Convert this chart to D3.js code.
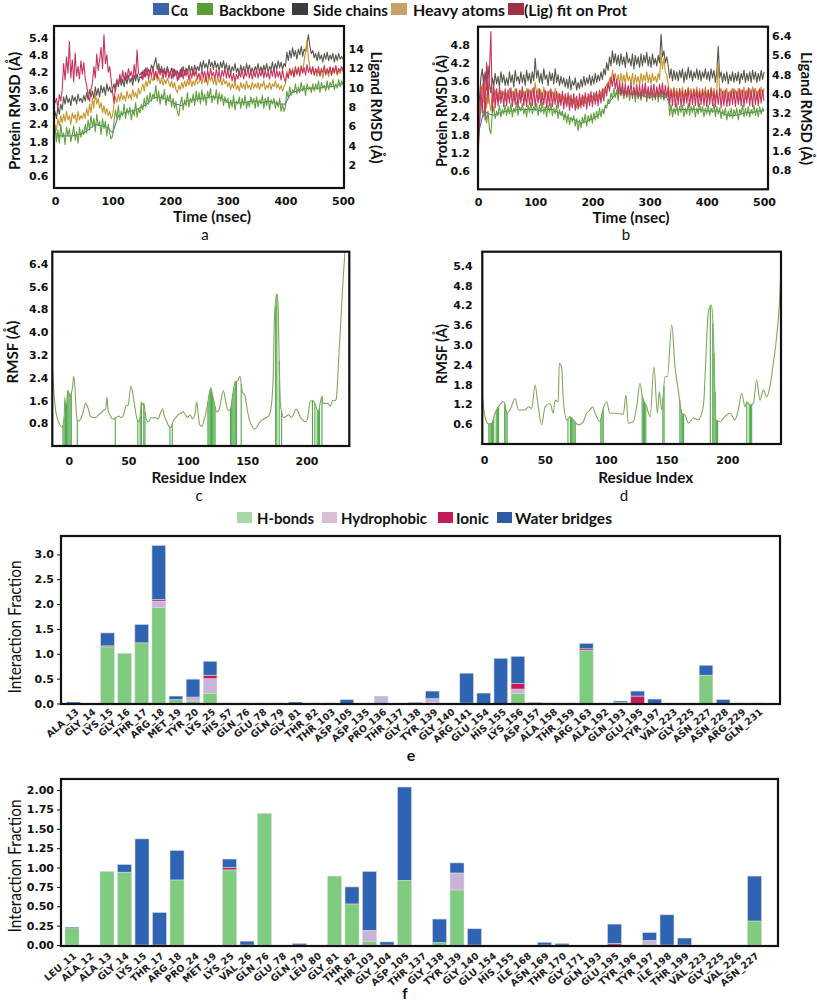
<!DOCTYPE html>
<html><head><meta charset="utf-8">
<script src="https://cdn.jsdelivr.net/npm/d3@7"></script>
<style>body{margin:0;background:#fff}svg{display:block}</style>
</head><body>
<svg id="fig" width="817" height="1003"></svg>
<script>
// ---------------- DATA ----------------
const rmsdLegend = ["Cα","Backbone","Side chains","Heavy atoms","(Lig) fit on Prot"];
const aLeftTicks = [0.6,1.2,1.8,2.4,3.0,3.6,4.2,4.8,5.4];
const aRightTicks = [2,4,6,8,10,12,14];
const bLeftTicks = [0.6,1.2,1.8,2.4,3.0,3.6,4.2,4.8];
const bRightTicks = [0.8,1.6,2.4,3.2,4.0,4.8,5.6,6.4];
const timeTicks = [0,100,200,300,400,500];

// panel a (every 2.5 ns, 0..500)
const aBackbone = [
 2.35,1.8,2.2,1.75,2.4,1.95,2.1,1.7,2.3,2.0,2.25,1.8,2.05,2.35,1.85,2.15,1.75,2.3,1.95,2.2,
 2.05,2.4,2.1,2.55,2.2,2.7,2.3,2.6,2.15,2.75,2.35,2.5,2.05,2.6,2.25,2.5,2.0,2.4,2.1,1.9,
 2.0,2.5,2.9,2.6,3.05,2.55,2.85,2.7,3.1,2.6,2.95,2.75,3.0,2.55,2.9,2.7,3.15,2.65,2.95,2.8,
 3.1,2.9,3.3,3.0,3.4,3.1,3.5,3.2,3.45,3.3,3.75,3.2,3.55,3.1,3.45,3.25,3.6,3.05,3.4,3.2,
 3.45,3.0,3.3,2.95,3.2,2.8,2.7,3.1,3.35,2.9,3.25,3.05,3.5,3.0,3.3,3.15,3.45,3.05,3.55,3.2,
 3.5,3.1,3.6,3.2,3.45,3.05,3.55,3.3,3.65,3.15,3.4,3.25,3.6,3.1,3.5,3.2,3.45,3.05,3.35,3.15,
 3.3,2.95,3.25,3.0,3.4,2.9,3.2,3.1,3.35,2.95,3.3,3.05,3.4,2.95,3.2,3.0,3.35,3.1,3.3,2.95,
 3.35,3.0,3.25,3.1,3.4,2.95,3.3,3.05,3.35,2.9,3.25,3.1,3.3,2.95,3.2,3.0,3.3,2.85,3.1,2.85,
 3.0,3.55,3.3,3.7,3.4,3.6,3.5,3.8,3.45,3.7,3.5,3.85,3.55,3.75,3.4,3.8,3.6,3.7,3.5,3.8,
 3.55,3.8,3.6,3.9,3.5,3.85,3.65,3.75,3.55,3.9,3.6,3.85,3.7,3.95,3.6,3.8,3.65,3.95,3.7,3.9,
 3.8];
const aSide = [
 2.85,2.6,3.0,2.75,3.1,2.9,3.35,3.1,3.4,3.15,3.3,3.05,3.4,3.2,3.35,3.1,3.45,3.2,3.3,3.15,
 3.4,3.2,3.5,3.25,3.6,3.35,3.55,3.3,3.7,3.4,3.65,3.35,3.75,3.5,3.7,3.4,3.8,3.55,3.7,3.5,
 3.6,3.8,3.55,3.9,3.7,4.0,3.75,3.95,3.7,4.05,3.8,4.1,3.85,4.0,3.75,4.1,3.9,4.15,3.85,4.05,
 4.0,4.25,4.05,4.35,4.1,4.3,4.2,4.45,4.3,4.5,4.7,4.3,4.5,4.2,4.4,4.15,4.35,4.1,4.4,4.2,
 4.15,4.35,4.0,4.3,4.1,4.25,3.95,4.3,4.05,4.4,4.1,4.35,4.15,4.45,4.2,4.4,4.1,4.45,4.25,4.4,
 4.25,4.55,4.3,4.6,4.35,4.5,4.3,4.65,4.4,4.55,4.3,4.6,4.35,4.5,4.25,4.55,4.35,4.6,4.3,4.5,
 4.2,4.45,4.15,4.4,4.25,4.5,4.2,4.35,4.1,4.45,4.2,4.4,4.15,4.5,4.25,4.45,4.2,4.35,4.15,4.4,
 4.25,4.5,4.2,4.4,4.15,4.45,4.25,4.5,4.2,4.4,4.3,4.55,4.25,4.5,4.3,4.6,4.35,4.55,4.3,4.5,
 4.4,4.9,4.6,4.95,4.7,5.05,4.75,4.95,4.65,5.0,4.8,5.1,4.75,5.0,4.9,5.2,5.5,5.1,4.85,4.95,
 4.7,4.85,4.6,4.9,4.65,4.8,4.55,4.85,4.65,4.9,4.6,4.8,4.65,4.85,4.55,4.8,4.6,4.85,4.65,4.75,
 4.65];
const aHeavy = [
 2.4,2.2,2.6,2.35,2.7,2.45,2.75,2.5,2.85,2.55,2.7,2.4,2.8,2.6,2.75,2.45,2.85,2.55,2.7,2.6,
 2.8,2.6,2.95,2.7,3.1,2.8,3.3,2.95,3.5,3.1,3.3,2.95,3.15,2.8,3.05,2.75,2.95,2.7,2.85,2.6,
 2.7,3.1,3.35,3.15,3.45,3.2,3.5,3.25,3.4,3.2,3.55,3.3,3.45,3.25,3.6,3.35,3.5,3.3,3.65,3.45,
 3.6,3.8,3.55,3.9,3.7,3.95,3.8,4.05,3.9,4.1,4.25,3.9,4.05,3.8,4.0,3.75,3.95,3.8,4.0,3.85,
 3.7,3.9,3.65,3.85,3.6,3.5,3.75,3.6,3.85,3.65,3.9,3.7,3.95,3.75,4.0,3.7,3.9,3.75,4.0,3.8,
 3.85,4.05,3.8,4.1,3.85,4.0,3.75,4.1,3.9,4.05,3.8,4.0,3.75,4.05,3.85,3.95,3.75,4.0,3.8,3.9,
 3.7,3.85,3.6,3.8,3.65,3.9,3.6,3.75,3.55,3.85,3.65,3.8,3.6,3.9,3.65,3.75,3.6,3.85,3.65,3.8,
 3.65,3.85,3.6,3.8,3.7,3.9,3.6,3.75,3.65,3.85,3.6,3.8,3.7,3.9,3.65,3.8,3.6,3.75,3.55,3.7,
 3.8,4.25,4.0,4.3,4.1,4.35,4.05,4.3,4.1,4.4,4.15,4.35,4.2,4.6,4.9,5.3,4.7,4.4,4.2,4.35,
 4.1,4.3,4.05,4.25,4.1,4.35,4.0,4.3,4.1,4.25,4.05,4.35,4.1,4.3,4.15,4.4,4.1,4.3,4.15,4.35,
 4.2];
const aLig = [
 8.4,8.9,7.9,9.3,8.6,9.8,12.5,10.8,13.2,11.5,14.8,11.0,12.9,10.6,13.6,11.2,12.2,10.9,12.8,11.4,
 12.6,11.0,10.2,9.2,8.6,9.8,10.5,12.2,11.0,13.5,11.8,12.9,14.2,12.0,15.5,12.5,13.4,11.6,12.2,10.8,
 9.5,8.4,10.2,10.9,10.3,11.4,10.6,11.8,10.7,11.6,10.9,12.0,11.2,11.7,10.8,12.4,11.1,13.9,11.5,11.3,
 11.6,10.8,11.9,11.1,12.1,10.9,11.8,11.2,12.2,10.8,11.7,11.0,12.0,11.3,11.9,10.9,11.8,11.1,12.1,11.0,
 11.7,10.9,12.0,11.2,11.8,10.7,11.6,11.1,12.1,10.9,11.8,11.2,11.9,10.8,11.7,11.0,12.0,11.2,11.8,10.9,
 11.5,10.8,11.9,11.1,11.7,10.6,11.8,11.0,12.0,11.2,11.6,10.9,11.9,11.1,11.7,10.8,11.8,11.2,12.0,11.0,
 11.8,11.0,11.6,10.7,11.5,10.6,11.4,10.9,11.7,11.1,11.9,10.9,11.6,11.2,12.0,11.0,11.8,10.9,11.7,11.1,
 11.9,11.0,11.7,11.2,12.0,11.0,11.8,11.1,11.6,10.9,11.9,11.2,12.1,11.0,11.8,11.1,11.7,10.8,11.9,11.0,
 10.6,11.5,11.0,12.0,11.3,11.8,11.1,12.2,11.4,12.0,11.2,12.3,11.5,12.1,11.3,12.4,11.6,12.1,11.4,12.2,
 11.3,12.0,11.5,12.2,11.2,11.9,11.6,12.3,11.4,12.0,11.5,12.2,11.3,12.1,11.6,12.3,11.4,12.0,11.7,12.2,
 11.8];
// every 10 ns
const aCa = [2.1,2.0,2.0,2.0,2.05,2.1,2.25,2.4,2.35,2.3,
 2.1,2.7,2.8,2.85,2.9,3.0,3.1,3.3,3.35,3.3,
 3.2,3.1,3.05,3.2,3.25,3.3,3.3,3.35,3.35,3.3,
 3.15,3.15,3.15,3.15,3.2,3.2,3.15,3.2,3.15,3.1,
 3.1,3.5,3.55,3.6,3.65,3.65,3.65,3.7,3.7,3.75,3.8];

// panel b (every 2.5 ns)
const bBackbone = [
 1.4,2.2,2.7,2.9,2.4,2.75,2.2,2.6,2.0,1.85,2.5,2.75,2.35,2.6,2.45,2.8,2.4,2.65,2.5,2.8,
 2.45,2.75,2.5,2.85,2.4,2.7,2.55,2.9,2.45,2.75,2.6,2.85,2.5,2.7,2.4,2.8,2.55,2.9,2.5,2.75,
 2.6,2.85,2.45,2.8,2.55,2.9,2.5,2.75,2.4,2.8,2.55,2.85,2.45,2.7,2.5,2.8,2.35,2.65,2.45,2.6,
 2.3,2.55,2.2,2.5,2.15,2.4,2.25,2.45,2.1,2.35,1.95,2.3,2.05,2.4,2.2,2.5,2.1,2.45,2.25,2.5,
 2.2,2.55,2.3,2.6,2.35,2.7,2.4,2.65,2.5,2.8,2.7,3.0,2.85,3.2,3.0,3.35,3.05,3.3,2.95,3.4,
 3.1,3.35,3.0,3.3,3.05,3.4,2.95,3.25,3.1,3.35,2.9,3.3,3.0,3.2,2.95,3.3,3.05,3.35,2.9,3.25,
 3.0,3.3,2.95,3.2,3.05,3.35,2.9,3.25,3.0,3.3,2.95,3.2,3.05,3.25,2.45,2.8,2.4,2.7,2.5,2.85,
 2.45,2.75,2.55,2.8,2.4,2.7,2.5,2.85,2.45,2.75,2.55,2.8,2.4,2.7,2.5,2.85,2.55,2.75,2.4,2.7,
 2.5,2.8,2.45,2.7,2.55,2.85,2.4,2.75,2.5,2.7,2.35,2.65,2.45,2.7,2.3,2.6,2.4,2.7,2.35,2.65,
 2.45,2.7,2.3,2.65,2.5,2.8,2.4,2.7,2.45,2.75,2.4,2.65,2.5,2.8,2.45,2.7,2.4,2.75,2.5,2.7,
 2.6];
const bSide = [
 1.9,3.0,3.7,4.0,3.4,3.9,3.3,4.1,3.5,3.2,3.7,3.45,3.85,3.5,3.75,3.4,3.9,3.55,3.8,3.45,
 3.7,3.45,3.9,3.55,3.8,3.4,3.95,3.6,3.75,3.5,3.9,3.55,3.8,3.45,3.95,3.6,3.85,3.5,3.9,3.6,
 4.35,3.7,3.95,3.55,3.85,3.5,4.0,3.65,3.8,3.45,3.9,3.6,3.85,3.5,4.0,3.55,3.8,3.45,3.75,3.5,
 3.7,3.4,3.65,3.35,3.75,3.3,3.6,3.45,3.7,3.3,3.55,3.35,3.65,3.4,3.75,3.45,3.7,3.5,3.8,3.45,
 3.75,3.5,3.85,3.55,3.8,3.6,3.9,3.65,4.0,3.8,4.2,3.95,4.4,4.1,4.6,4.2,4.5,4.15,4.45,4.1,
 4.5,4.15,4.4,4.05,4.55,4.2,4.35,4.1,4.5,4.0,4.45,4.15,4.4,4.05,4.5,4.1,4.45,4.2,4.55,4.1,
 4.4,4.05,4.5,4.15,4.35,4.1,4.45,4.2,5.15,4.4,4.6,4.2,4.4,4.1,3.7,4.0,3.6,3.95,3.65,3.9,
 3.6,3.95,3.7,4.0,3.55,3.9,3.65,4.05,3.7,3.95,3.6,3.9,3.7,4.0,3.65,3.95,3.6,3.9,3.7,4.0,
 3.65,3.9,3.6,4.0,3.7,3.95,3.55,3.9,4.75,3.7,3.9,3.55,3.85,3.6,3.9,3.5,3.8,3.6,3.9,3.55,
 3.85,3.6,3.9,3.5,3.85,3.65,3.95,3.55,3.85,3.6,3.9,3.55,3.95,3.65,3.9,3.55,3.85,3.6,3.95,3.65,
 3.9];
const bHeavy = [
 1.7,2.6,3.2,3.5,2.9,3.4,2.7,3.5,2.9,2.6,3.1,2.9,3.3,3.0,3.2,2.95,3.3,3.05,3.25,2.95,
 3.2,3.0,3.35,3.05,3.25,2.95,3.35,3.1,3.2,3.0,3.3,3.05,3.25,2.95,3.35,3.1,3.3,3.0,3.35,3.1,
 3.55,3.15,3.35,3.0,3.3,2.95,3.4,3.1,3.25,2.95,3.3,3.05,3.25,2.95,3.35,3.0,3.2,2.9,3.15,2.95,
 3.1,2.85,3.05,2.8,3.1,2.75,3.0,2.85,3.05,2.7,2.95,2.75,3.05,2.8,3.1,2.85,3.05,2.9,3.15,2.9,
 3.1,2.95,3.2,2.95,3.15,3.0,3.25,3.05,3.35,3.2,3.5,3.35,3.7,3.5,3.95,3.6,3.85,3.55,3.8,3.5,
 3.85,3.55,3.8,3.5,3.9,3.6,3.75,3.5,3.85,3.45,3.8,3.55,3.75,3.45,3.85,3.55,3.8,3.6,3.9,3.55,
 3.8,3.5,3.85,3.6,3.75,3.55,3.85,3.65,4.5,4.0,4.35,3.9,3.8,3.5,3.1,3.35,3.05,3.4,3.1,3.35,
 3.05,3.35,3.1,3.4,3.0,3.3,3.1,3.4,3.15,3.35,3.05,3.3,3.1,3.4,3.05,3.35,3.0,3.3,3.1,3.4,
 3.05,3.3,3.0,3.4,3.1,3.35,3.0,3.3,4.2,3.2,3.35,3.0,3.3,3.05,3.35,2.95,3.25,3.05,3.35,3.0,
 3.3,3.05,3.35,2.95,3.3,3.1,3.4,3.0,3.3,3.05,3.35,3.0,3.4,3.1,3.35,3.0,3.3,3.05,3.4,3.1,
 3.35];
const bLig = [
 1.4,2.6,4.3,3.2,4.8,2.9,5.3,3.6,4.9,6.6,3.2,4.4,3.4,4.2,3.5,4.3,3.6,4.1,3.45,4.2,
 3.5,4.15,3.6,4.25,3.45,4.1,3.55,4.2,3.4,4.15,3.6,4.3,3.5,4.1,3.45,4.2,3.55,4.15,3.5,4.25,
 3.45,4.1,3.6,4.2,3.5,4.05,3.55,4.15,3.4,4.1,3.5,4.2,3.45,4.05,3.55,4.1,3.4,4.0,3.5,4.1,
 3.35,4.0,3.45,4.05,3.3,3.95,3.4,4.0,3.3,3.9,3.35,4.0,3.4,3.95,3.45,4.05,3.35,4.0,3.5,4.1,
 3.45,4.05,3.55,4.1,3.5,4.15,3.6,4.2,3.7,4.3,3.9,4.5,4.1,4.7,4.3,4.8,4.2,4.6,4.0,4.5,
 3.95,4.45,3.9,4.4,3.85,4.35,3.95,4.45,3.8,4.3,3.9,4.4,3.85,4.35,3.8,4.4,3.9,4.45,3.85,4.3,
 3.8,4.35,3.9,4.4,3.75,4.3,3.85,4.4,3.9,4.45,3.8,4.35,3.85,4.3,3.55,4.15,3.5,4.2,3.45,4.1,
 3.55,4.2,3.45,4.1,3.5,4.15,3.6,4.2,3.45,4.1,3.55,4.2,3.5,4.15,3.45,4.1,3.55,4.2,3.5,4.1,
 3.45,4.15,3.55,4.2,3.5,4.1,3.45,4.15,3.55,4.2,3.4,4.1,3.5,4.15,3.45,4.05,3.5,4.15,3.55,4.2,
 3.45,4.1,3.55,4.2,3.5,4.15,3.45,4.1,3.6,4.25,3.5,4.15,3.45,4.2,3.55,4.1,3.5,4.2,3.6,4.15,
 3.7];
const bCa = [1.8,2.6,2.5,2.45,2.55,2.6,2.6,2.65,2.65,2.65,
 2.65,2.6,2.65,2.65,2.55,2.45,2.35,2.3,2.2,2.25,
 2.35,2.45,2.65,2.9,3.15,3.2,3.2,3.15,3.15,3.1,
 3.05,3.1,3.1,3.05,2.6,2.65,2.65,2.65,2.65,2.65,
 2.6,2.6,2.6,2.5,2.45,2.45,2.5,2.55,2.55,2.6,2.6];

// RMSF panels: [residue index, RMSF]
const cRmsf = [[-14,2.9],[-13,2.1],[-12,1.55],[-11,1.2],[-10,1.0],[-8,0.78],[-6,0.65],[-5,0.72],[-4,1.0],[-3.5,1.7],[-3,1.5],[-2,1.45],[-1,1.95],[0,1.85],[1,1.7],[2,1.85],[3,2.05],[4,2.45],[5,2.1],[6,1.3],[7,0.9],[8,0.88],[10,0.95],[12,1.2],[14,1.5],[16,1.35],[18,1.05],[20,1.0],[23,1.0],[25,1.1],[27,1.15],[29,1.25],[31,1.3],[32,1.72],[33,1.25],[35,1.05],[37,0.95],[39,0.98],[40,1.0],[42,1.05],[44,1.0],[46,1.1],[48,1.4],[50,1.45],[52,2.1],[53,2.0],[55,1.5],[57,1.0],[59,0.85],[60,1.05],[61,1.55],[62,1.45],[63,1.5],[64,1.2],[65,0.95],[67,0.85],[69,1.0],[71,0.98],[73,1.0],[75,0.95],[77,1.15],[79,1.3],[80,1.1],[82,0.9],[84,0.7],[86,0.65],[88,0.9],[90,1.0],[92,1.1],[94,1.15],[96,1.2],[98,1.1],[100,1.0],[102,1.1],[104,0.95],[106,1.1],[107.5,1.55],[109,1.05],[110,0.75],[112,0.7],[114,0.95],[116,1.3],[118,1.8],[119.5,2.05],[121,1.75],[123,1.4],[124,1.2],[126,1.25],[128,1.6],[130,1.95],[132,1.55],[134,1.25],[136,1.3],[138,1.85],[140,2.25],[142,2.3],[144,2.45],[146,1.9],[148,1.8],[150,1.3],[152,0.9],[154,0.7],[156,0.6],[158,0.65],[160,0.8],[162,0.9],[164,0.95],[166,1.0],[168,1.05],[170,1.3],[172,2.5],[173,4.5],[175,5.35],[176,5.0],[177,3.0],[178,1.5],[179,1.2],[181,1.0],[183,1.05],[185,1.1],[187,1.0],[189,1.1],[191,1.3],[193,1.2],[195,1.0],[197,0.9],[199,0.85],[201,1.0],[203,1.55],[205,1.6],[207,1.5],[209,1.25],[210,1.2],[211,1.4],[213,1.75],[214,1.5],[216,1.5],[218,1.5],[220,1.4],[222,1.6],[224,1.6],[225,1.65],[227,3.0],[229,4.5],[231,6.0],[232.5,6.9]];
const dRmsf = [[-1.4,1.5],[-1,1.33],[0.8,0.83],[3.6,0.61],[6.3,0.63],[9,0.93],[11.8,1.13],[15.9,1.28],[17.3,1.2],[18.6,0.93],[21.4,1.03],[25.5,1.38],[28.3,1.03],[33.7,1.03],[36.5,1.13],[39.2,1.08],[42,1.79],[44,1.3],[47.4,0.58],[50.2,1.13],[54.3,1.23],[57,0.93],[58.4,1.33],[61,1.28],[61.9,2.45],[63.8,2.34],[65.2,1.33],[68,0.73],[70.7,0.83],[73.4,0.73],[77.5,0.58],[81.6,0.68],[84.4,0.93],[87.1,1.03],[89.3,1.13],[91.2,0.95],[95.3,0.68],[98,1.08],[100.8,1.28],[103.5,0.93],[109,0.93],[114.5,0.9],[116.7,1.49],[118.6,0.63],[122.7,0.68],[125.5,1.13],[128.2,1.84],[130.2,1.43],[133.7,1.13],[136.5,0.83],[139.7,2.34],[142.5,0.93],[144.1,1.59],[146,1.03],[148.8,2.04],[150.7,2.04],[154.3,3.61],[157,2.34],[159.7,1.64],[162.5,0.93],[165.2,0.88],[168,0.63],[172,0.78],[176.1,0.73],[180.2,1.13],[184.4,4.01],[185.7,4.16],[187.1,4.21],[188.5,3.36],[190.7,0.73],[194,0.68],[198,0.83],[202.2,0.93],[206.3,0.73],[209,1.03],[211.8,1.54],[214.5,1.13],[215.9,1.28],[218.6,1.18],[221.4,1.23],[224.1,1.94],[226.8,1.33],[229.6,1.64],[232.3,1.43],[235,1.74],[237.8,2.45],[240.5,3.25],[243.8,5.07],[244.5,5.9]];
const cContacts = [-5,-4,-3,-2,-1,0,1,2,7,39,58,60,61,63,64,85,87,117,118,119,120,121,122,123,136,137,138,139,140,141,145,174,175,177,179,205,207,209,210,211,213];
const dContacts = [4,5,6,7,8,10,11,12,17,18,19,69,71,72,73,74,75,96,97,98,130,131,132,133,147,148,161,162,163,164,186,188,189,190,191,192,216,218,219,220];
const cTicks = [0.8,1.6,2.4,3.2,4.0,4.8,5.6,6.4];
const dTicks = [0.6,1.2,1.8,2.4,3.0,3.6,4.2,4.8,5.4];
const resTicks = [0,50,100,150,200];

// interaction panels
const intLegend = ["H-bonds","Hydrophobic","Ionic","Water bridges"];
const eCats = ["ALA_13","GLY_14","LYS_15","GLY_16","THR_17","ARG_18","MET_19","TYR_20","LYS_25","HIS_57","GLN_76","GLU_78","GLN_79","GLY_81","THR_82","THR_103","ASP_105","ASP_135","PRO_136","THR_137","GLY_138","TYR_139","GLY_140","ARG_141","GLU_154","HIS_155","LYS_156","ASP_157","ALA_158","THR_159","ARG_163","ALA_192","GLN_193","GLU_195","TYR_197","VAL_223","GLY_225","ASN_227","ASN_228","ARG_229","GLN_231"];
const eHbond = [0,0,1.14,1.01,1.22,1.93,0.08,0.05,0.20,0,0,0,0,0,0,0,0,0,0,0,0,0.02,0,0,0,0,0.20,0,0,0,1.07,0,0,0,0,0,0,0.57,0,0,0];
const eHydro = [0,0,0,0,0,0.13,0,0.07,0.30,0,0,0,0,0,0,0,0,0,0.12,0,0,0.08,0,0,0,0,0.09,0.01,0,0,0,0,0,0,0,0,0,0,0,0,0];
const eIonic = [0,0,0.02,0,0,0.03,0,0.01,0.07,0.01,0,0,0,0,0,0,0,0,0,0,0,0,0,0.01,0,0,0.11,0.01,0,0,0.03,0,0.02,0.15,0,0,0,0,0,0,0];
const eWater = [0.03,0,0.26,0,0.37,1.09,0.07,0.36,0.28,0,0.01,0.01,0.01,0.03,0.01,0.01,0.08,0,0.02,0,0.02,0.15,0,0.60,0.21,0.91,0.55,0,0.01,0.01,0.11,0,0.03,0.10,0.09,0,0,0.20,0.08,0.01,0.01];
const eTicks = [0.0,0.5,1.0,1.5,2.0,2.5,3.0];
const fCats = ["LEU_11","ALA_12","ALA_13","GLY_14","LYS_15","THR_17","ARG_18","PRO_24","MET_19","LYS_25","VAL_26","GLN_76","GLU_78","GLN_79","LEU_80","GLY_81","THR_82","THR_103","GLY_104","ASP_105","THR_137","GLY_138","TYR_139","GLY_140","GLU_154","HIS_155","ILE_168","ASN_169","THR_170","GLY_171","GLN_193","GLU_195","TYR_196","TYR_197","ILE_198","THR_199","VAL_223","GLY_225","VAL_226","ASN_227"];
const fHbond = [0.21,0,0.95,0.94,0,0,0.84,0,0,0.97,0,1.70,0,0,0,0.89,0.53,0.05,0,0.835,0,0.03,0.71,0,0,0,0,0,0,0,0,0,0,0.01,0,0,0,0,0,0.31];
const fHydro = [0,0,0,0,0,0,0,0,0,0,0,0,0,0,0,0,0,0.14,0,0,0,0,0.22,0,0,0,0,0,0,0,0,0,0,0.05,0,0,0,0,0,0];
const fIonic = [0,0,0,0,0,0,0,0,0,0.03,0,0,0,0,0,0,0,0,0,0,0,0,0,0,0,0,0,0,0,0,0,0.02,0,0,0,0,0,0,0,0];
const fWater = [0.02,0,0,0.10,1.37,0.42,0.38,0,0,0.11,0.05,0,0,0.02,0,0,0.22,0.76,0.04,1.205,0,0.305,0.13,0.21,0,0,0,0.035,0.02,0,0,0.25,0,0.10,0.39,0.09,0,0,0,0.58];
const fTicks = [0.00,0.25,0.50,0.75,1.00,1.25,1.50,1.75,2.00];

// ---------------- STYLE ----------------
const TICKF = "DejaVu Sans", TITLEF = "Lato";
const rmsdColors = {ca:"#3a62b0", bb:"#62a03a", sc:"#57564a", ha:"#c8952a", lig:"#c8325e"};
const rmsdSwatch = ["#3e63ad","#5c9c34","#3c3c3c","#c9a066","#9e3049"];
const intColors = {H:"#7fcb7f", Hy:"#c9b3db", I:"#c9195b", W:"#2f64b4"};
const intSwatch = ["#a8d8a8","#d8bcd8","#c41a5a","#2d5aa0"];

const svg = d3.select("#fig");
svg.append("rect").attr("width",817).attr("height",1003).attr("fill","#fff");
const defs = svg.append("defs");

function txt(x,y,s,o={}){
  const t = svg.append("text").attr("x",x).attr("y",y).text(s)
    .attr("font-family",o.ff||TITLEF).attr("font-size",o.fs||15)
    .attr("font-weight",o.fw||"bold").attr("fill","#111")
    .attr("text-anchor",o.anchor||"middle").attr("dominant-baseline","central");
  if(o.rot) t.attr("transform",`rotate(${o.rot},${x},${y})`);
  if(o.len) t.attr("textLength",o.len).attr("lengthAdjust","spacingAndGlyphs");
  return t;
}
function frame(f){
  svg.append("rect").attr("x",f.x0).attr("y",f.y0).attr("width",f.x1-f.x0).attr("height",f.y1-f.y0)
    .attr("fill","none").attr("stroke","#111").attr("stroke-width",2.2);
}
function clip(id,f){
  defs.append("clipPath").attr("id",id).append("rect").attr("x",f.x0).attr("y",f.y0).attr("width",f.x1-f.x0).attr("height",f.y1-f.y0);
}
function styleAxis(g,fs){
  g.select(".domain").remove();
  g.selectAll("text").attr("font-family",TICKF).attr("font-weight","bold").attr("font-size",fs||11).attr("fill","#111");
  g.selectAll("line").attr("stroke","#111");
}

// ---------------- TOP LEGEND ----------------
const topSw = [153,197,292,391,508], topTx = [171,219,313,413,524], topLen=[17,66,75,92,103];
rmsdLegend.forEach((s,i)=>{
  svg.append("rect").attr("x",topSw[i]).attr("y",3).attr("width",16).attr("height",12).attr("fill",rmsdSwatch[i]);
  txt(topTx[i],9.5,s,{anchor:"start",fs:16,len:topLen[i]});
});

// ---------------- RMSD PANELS ----------------
function rmsdPanel(p){
  const f=p.frame;
  const x=d3.scaleLinear().domain([0,500]).range(p.xr);
  const yl=d3.scaleLinear().domain(p.ld).range([f.y1,f.y0]);
  const yr=d3.scaleLinear().domain(p.rd).range([f.y1,f.y0]);
  clip(p.id,f);
  const g=svg.append("g").attr("clip-path",`url(#${p.id})`);
  const draw=(arr,dt,sc,col,w)=>g.append("path").datum(arr)
     .attr("d",d3.line().x((d,i)=>x(i*dt)).y(d=>sc(d)))
     .attr("fill","none").attr("stroke",col).attr("stroke-width",w)
     .attr("stroke-linejoin","round");
  draw(p.ca,10,yl,rmsdColors.ca,1);
  draw(p.bb,2.5,yl,rmsdColors.bb,1.1);
  draw(p.sc,2.5,yl,rmsdColors.sc,1.1);
  draw(p.ha,2.5,yl,rmsdColors.ha,1.1);
  draw(p.lig,2.5,yr,rmsdColors.lig,1.1);
  frame(f);
  svg.append("g").attr("transform",`translate(${p.lx},0)`)
    .call(d3.axisLeft(yl).tickValues(p.lt).tickFormat(d3.format(".1f")).tickSize(0).tickPadding(0)).call(styleAxis);
  svg.append("g").attr("transform",`translate(${p.rx},0)`)
    .call(d3.axisRight(yr).tickValues(p.rt).tickFormat(p.rf).tickSize(0).tickPadding(0)).call(styleAxis);
  svg.append("g").attr("transform",`translate(0,${p.xy})`)
    .call(d3.axisBottom(x).tickValues(timeTicks).tickFormat(d3.format("d")).tickSize(0).tickPadding(0)).call(styleAxis);
}
rmsdPanel({id:"ca",frame:{x0:54,x1:344,y0:26,y1:188},xr:[55,343],ld:[0.2,5.8],rd:[-0.4,16.4],
  ca:aCa,bb:aBackbone,sc:aSide,ha:aHeavy,lig:aLig,lt:aLeftTicks,rt:aRightTicks,rf:d3.format("d"),lx:48.5,rx:348.5,xy:197.5});
rmsdPanel({id:"cb",frame:{x0:478,x1:768,y0:26.7,y1:189.3},xr:[478,764],ld:[0,5.4],rd:[0,6.8],
  ca:bCa,bb:bBackbone,sc:bSide,ha:bHeavy,lig:bLig,lt:bLeftTicks,rt:bRightTicks,rf:d3.format(".1f"),lx:470,rx:772,xy:198.5});

txt(13,111,"Protein RMSD (Å)",{rot:-90,fs:16,len:118});
txt(377,107.5,"Ligand RMSD (Å)",{rot:90,fs:16,len:112});
txt(212,216,"Time (nsec)",{fs:15,len:78});
txt(205,234,"a",{fs:15,fw:"normal"});
txt(440,111,"Protein RMSD (Å)",{rot:-90,fs:16,len:112});
txt(807,108.5,"Ligand RMSD (Å)",{rot:90,fs:16,len:113});
txt(631,217,"Time (nsec)",{fs:15,len:77});
txt(626,234,"b",{fs:15,fw:"normal"});

// ---------------- RMSF PANELS ----------------
function rmsfPanel(p){
  const f=p.frame;
  const x=d3.scaleLinear().domain(p.xd).range([f.x0,f.x1]);
  const y=d3.scaleLinear().domain(p.yd).range([f.y1,f.y0]);
  const interp=d3.scaleLinear().domain(p.data.map(d=>d[0])).range(p.data.map(d=>d[1]));
  clip(p.id,f);
  const g=svg.append("g").attr("clip-path",`url(#${p.id})`);
  g.selectAll("line.ct").data(p.contacts).enter().append("line")
    .attr("x1",d=>x(d)).attr("x2",d=>x(d)).attr("y1",y(0)).attr("y2",d=>y(interp(d)))
    .attr("stroke","#4ea84a").attr("stroke-width",1.1);
  g.append("path").datum(p.data)
    .attr("d",d3.line().x(d=>x(d[0])).y(d=>y(d[1])).curve(d3.curveMonotoneX))
    .attr("fill","none").attr("stroke","#7fa858").attr("stroke-width",1.1);
  frame(f);
  svg.append("g").attr("transform",`translate(${p.lx},0)`)
    .call(d3.axisLeft(y).tickValues(p.ticks).tickFormat(d3.format(".1f")).tickSize(0).tickPadding(0)).call(styleAxis);
  svg.append("g").attr("transform",`translate(0,${p.xy})`)
    .call(d3.axisBottom(x).tickValues(resTicks).tickFormat(d3.format("d")).tickSize(0).tickPadding(0)).call(styleAxis);
}
rmsfPanel({id:"cc",frame:{x0:52.3,x1:349.3,y0:251.7,y1:446},xd:[-14,236],yd:[0,6.83],data:cRmsf,contacts:cContacts,ticks:cTicks,lx:48.5,xy:457.5});
rmsfPanel({id:"cd",frame:{x0:482.3,x1:781,y0:251.7,y1:444},xd:[-1.4,244.1],yd:[0,5.83],data:dRmsf,contacts:dContacts,ticks:dTicks,lx:472.7,xy:456.5});
txt(11,352,"RMSF (Å)",{rot:-90,fs:16,len:63});
txt(199,477,"Residue Index",{fs:15,len:95});
txt(199,495,"c",{fs:15,fw:"normal"});
txt(440,354,"RMSF (Å)",{rot:-90,fs:16,len:60});
txt(645.7,477,"Residue Index",{fs:15,len:95});
txt(624,495,"d",{fs:15,fw:"normal"});

// ---------------- INTERACTION LEGEND ----------------
const intSw=[237,322,438,497], intTx=[257,341,456,515], intLen=[57,86,33,97];
intLegend.forEach((s,i)=>{
  svg.append("rect").attr("x",intSw[i]).attr("y",512).attr("width",15).attr("height",11).attr("fill",intSwatch[i]);
  txt(intTx[i],517.7,s,{anchor:"start",fs:16,len:intLen[i]});
});

// ---------------- INTERACTION PANELS ----------------
function intPanel(p){
  const f=p.frame;
  const xb=d3.scaleBand().domain(p.cats).range(p.xr).paddingInner(0.2).paddingOuter(0.1);
  const y=d3.scaleLinear().domain(p.yd).range([p.y0,f.y0]);
  const rows=p.cats.map((c,i)=>({cat:c,H:p.H[i],Hy:p.Hy[i],I:p.I[i],W:p.W[i]}));
  const stack=d3.stack().keys(["H","Hy","I","W"])(rows);
  stack.forEach(layer=>{
    svg.append("g").selectAll("rect").data(layer.filter(d=>d[1]-d[0]>0.004)).enter().append("rect")
      .attr("x",d=>xb(d.data.cat)).attr("width",xb.bandwidth())
      .attr("y",d=>y(d[1])).attr("height",d=>Math.max(0.6,y(d[0])-y(d[1])))
      .attr("fill",intColors[layer.key]).attr("stroke","#d6dcd6").attr("stroke-width",0.6);
  });
  frame(f);
  svg.append("g").attr("transform",`translate(${f.x0},0)`)
    .call(d3.axisLeft(y).tickValues(p.ticks).tickFormat(d3.format(p.fmt)).tickSize(4).tickPadding(3)).call(styleAxis);
  const ax=svg.append("g").attr("transform",`translate(0,${f.y1})`)
    .call(d3.axisBottom(xb).tickSize(0).tickPadding(0));
  styleAxis(ax,9.5);
  ax.selectAll("text").attr("text-anchor","end").attr("y",null).attr("dy",null)
    .attr("transform",`translate(${p.lo[0]},${p.lo[1]}) rotate(-40)`).attr("fill","#222");
}
intPanel({cats:eCats,H:eHbond,Hy:eHydro,I:eIonic,W:eWater,frame:{x0:61,x1:780,y0:536,y1:704},xr:[64.75,765.85],
  yd:[0,3.37],y0:703.5,ticks:eTicks,fmt:".1f",lo:[6,9]});
intPanel({cats:fCats,H:fHbond,Hy:fHydro,I:fIonic,W:fWater,frame:{x0:61,x1:778,y0:779,y1:946},xr:[63.25,763.25],
  yd:[0,2.143],y0:945,ticks:fTicks,fmt:".2f",lo:[5,11]});
txt(14,627,"Interaction Fraction",{rot:-90,fs:17,fw:"normal",len:133});
txt(14,866,"Interaction Fraction",{rot:-90,fs:17,fw:"normal",len:133});
txt(411,754,"e",{fs:16});
txt(405,993,"f",{fs:15});
</script>
</body></html>
